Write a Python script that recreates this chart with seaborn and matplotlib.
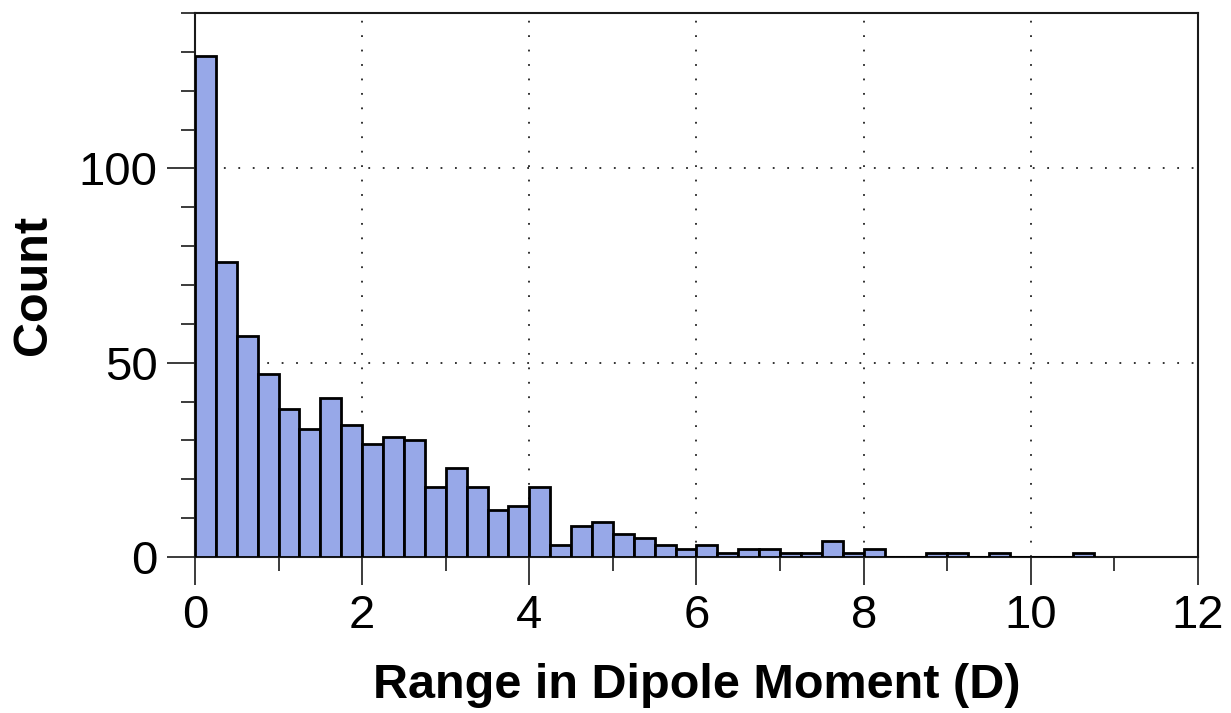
import numpy as np
import pandas as pd
import matplotlib
matplotlib.use("Agg")
import matplotlib.pyplot as plt
from matplotlib.ticker import MultipleLocator
import seaborn as sns

# Histogram of the range in dipole moment, binned at 0.25 D
bin_width = 0.25
counts = [129, 76, 57, 47, 38, 33, 41, 34, 29, 31, 30, 18, 23, 18, 12, 13,
          18, 3, 8, 9, 6, 5, 3, 2, 3, 1, 2, 2, 1, 1, 4, 1,
          2, 0, 0, 1, 1, 0, 1, 0, 0, 0, 1]
x_ticks = [0, 2, 4, 6, 8, 10, 12]
y_ticks = [0, 50, 100]

edges = np.arange(len(counts) + 1) * bin_width
df = pd.DataFrame({"dipole": edges[:-1] + bin_width / 2,
                   "count": np.asarray(counts, dtype=float)})

sns.set_style("ticks")
plt.rcParams["font.family"] = ["Liberation Sans", "DejaVu Sans"]
plt.rcParams["text.color"] = "black"
plt.rcParams["axes.labelcolor"] = "black"
plt.rcParams["xtick.color"] = "black"
plt.rcParams["ytick.color"] = "black"

fig = plt.figure(figsize=(12.31, 7.13), dpi=100)
ax = fig.add_axes([0.1584, 0.2188, 0.8148, 0.763])

sns.histplot(data=df, x="dipole", weights="count", bins=edges.tolist(),
             color="#97A8E8", edgecolor="black", linewidth=2.0, alpha=1,
             ax=ax, zorder=3)

ax.set_xlim(0, 12)
ax.set_ylim(0, 140)
ax.set_xticks(x_ticks)
ax.set_yticks(y_ticks)
ax.xaxis.set_minor_locator(MultipleLocator(1))
ax.yaxis.set_minor_locator(MultipleLocator(10))

ax.grid(True, which="major", color="#222222", linestyle=(0, (1, 7)),
        linewidth=1.3, zorder=0)
ax.set_axisbelow(True)

for side in ["left", "right", "top", "bottom"]:
    ax.spines[side].set_visible(True)
    ax.spines[side].set_color("#1a1a1a")
    ax.spines[side].set_linewidth(1.5)

ax.tick_params(which="major", direction="out", length=20, width=1.2,
               color="#1a1a1a", labelcolor="black", labelsize=34, pad=7)
ax.tick_params(which="minor", direction="out", length=10, width=1.2,
               color="#1a1a1a")
ax.tick_params(axis="y", which="both", right=False)
ax.tick_params(axis="x", which="both", top=False)

ax.set_xlabel("Range in Dipole Moment (D)", fontsize=35, fontweight="bold",
              labelpad=18)
ax.set_ylabel("Count", fontsize=35, fontweight="bold", labelpad=16)

fig.savefig("out.png", dpi=100)
